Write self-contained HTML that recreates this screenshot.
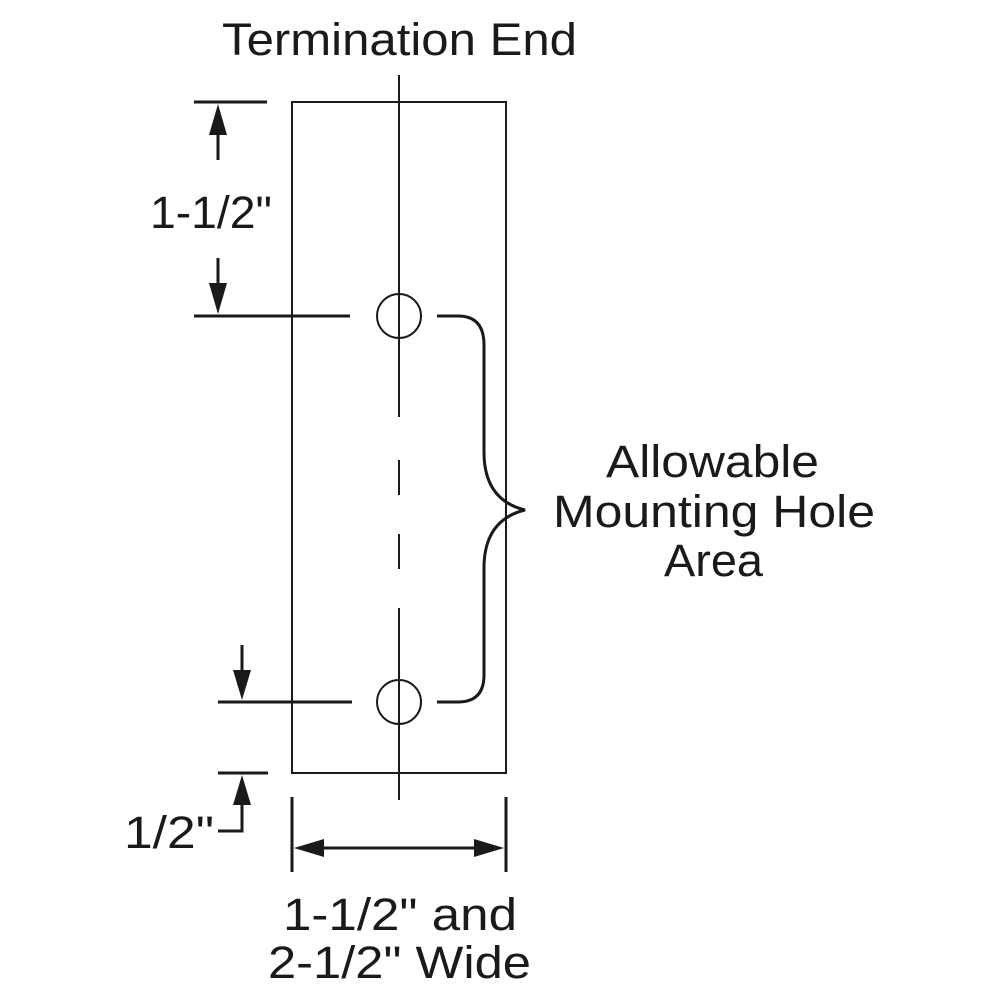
<!DOCTYPE html>
<html><head><style>html,body{margin:0;padding:0;background:#fff}</style></head>
<body>
<svg width="1000" height="1000" viewBox="0 0 1000 1000" xmlns="http://www.w3.org/2000/svg">
<g fill="#1a1a1a" font-family="Liberation Sans, Arial, sans-serif" font-size="45">
<text x="222" y="55" textLength="355" lengthAdjust="spacingAndGlyphs">Termination End</text>
<text x="150" y="228" textLength="122" lengthAdjust="spacingAndGlyphs">1-1/2"</text>
<text x="124" y="848" textLength="90" lengthAdjust="spacingAndGlyphs">1/2"</text>
<text x="283" y="930" textLength="234" lengthAdjust="spacingAndGlyphs">1-1/2" and</text>
<text x="268" y="978" textLength="263" lengthAdjust="spacingAndGlyphs">2-1/2" Wide</text>
<text x="606" y="477" textLength="213" lengthAdjust="spacingAndGlyphs">Allowable</text>
<text x="553" y="527" textLength="322" lengthAdjust="spacingAndGlyphs">Mounting Hole</text>
<text x="664" y="576" textLength="99" lengthAdjust="spacingAndGlyphs">Area</text>
</g>
<g stroke="#1a1a1a" fill="none">
<rect x="292" y="102" width="214" height="671" stroke-width="2"/>
<line x1="399" y1="75" x2="399" y2="417" stroke-width="2"/>
<line x1="399" y1="460" x2="399" y2="495" stroke-width="2"/>
<line x1="399" y1="534" x2="399" y2="569" stroke-width="2"/>
<line x1="399" y1="608" x2="399" y2="800" stroke-width="2"/>
<circle cx="399" cy="316" r="22" stroke-width="2"/>
<circle cx="399" cy="702" r="22" stroke-width="2"/>
<path d="M437 316 H458 Q484 316 484 345 V452 Q484 500 525 510 Q484 520 484 568 V675 Q484 702 458 702 H437" stroke-width="3"/>
<line x1="194" y1="102" x2="267" y2="102" stroke-width="3"/>
<line x1="194" y1="316" x2="350" y2="316" stroke-width="3"/>
<line x1="218" y1="130" x2="218" y2="160" stroke-width="3"/>
<line x1="218" y1="258" x2="218" y2="290" stroke-width="3"/>
<line x1="218" y1="702" x2="352" y2="702" stroke-width="3"/>
<line x1="242" y1="645" x2="242" y2="675" stroke-width="3"/>
<line x1="218" y1="773" x2="268" y2="773" stroke-width="3"/>
<path d="M242 800 V831 H218" stroke-width="3"/>
<line x1="292" y1="797" x2="292" y2="872" stroke-width="3"/>
<line x1="506" y1="797" x2="506" y2="872" stroke-width="3"/>
<line x1="320" y1="848" x2="478" y2="848" stroke-width="3"/>
</g>
<g fill="#1a1a1a">
<polygon points="218,104 209,135 227,135"/>
<polygon points="218,314 209,283 227,283"/>
<polygon points="242,700 233,670 251,670"/>
<polygon points="242,775 233,805 251,805"/>
<polygon points="294,848 324,839 324,857"/>
<polygon points="504,848 474,839 474,857"/>
</g>
</svg>
</body></html>
